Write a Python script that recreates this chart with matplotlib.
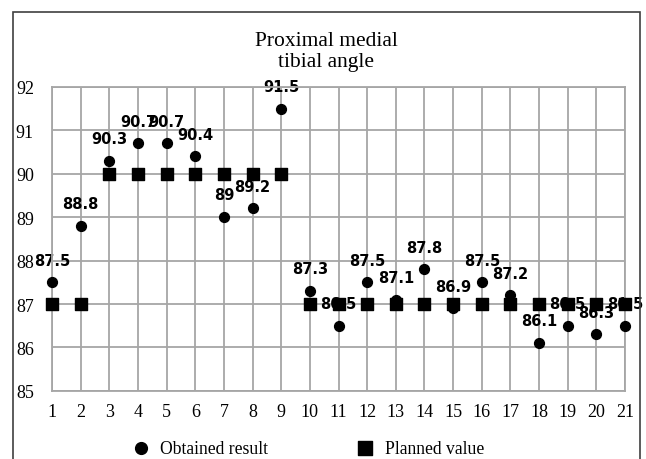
import matplotlib.pyplot as plt
from matplotlib.patches import Rectangle

# case numbers and angles (degrees)
cases = list(range(1, 22))
obtained = [87.5, 88.8, 90.3, 90.7, 90.7, 90.4, 89, 89.2, 91.5, 87.3,
            86.5, 87.5, 87.1, 87.8, 86.9, 87.5, 87.2, 86.1, 86.5, 86.3, 86.5]
planned = [87, 87, 90, 90, 90, 90, 90, 90, 90, 87,
           87, 87, 87, 87, 87, 87, 87, 87, 87, 87, 87]

serif = 'Liberation Serif'

fig = plt.figure(figsize=(6.46, 4.60), dpi=100)
ax = fig.add_axes([0.0805, 0.148, 0.887, 0.661])

ax.scatter(cases, planned, marker='s', s=75, color='black', zorder=3,
           clip_on=False, label='Planned value')
ax.scatter(cases, obtained, marker='o', s=50, color='black', zorder=4,
           clip_on=False, label='Obtained result')

# data labels above the obtained points
for x, y in zip(cases, obtained):
    ax.annotate(f'{y:g}', (x, y), xytext=(0, 16), textcoords='offset points',
                ha='center', va='center', fontsize=10.5, fontweight='bold',
                zorder=2)

ax.set_xlim(1, 21)
ax.set_ylim(85, 92)
ax.set_xticks(cases)
ax.set_yticks(range(85, 93))
ax.grid(True, color='#a6a6a6', linewidth=1.3)
ax.set_axisbelow(True)
for sp in ax.spines.values():
    sp.set_color('#a6a6a6')
    sp.set_linewidth(1.3)
ax.tick_params(length=0, labelsize=13)
ax.tick_params(axis='x', pad=9)
ax.tick_params(axis='y', pad=13)
for lab in ax.get_xticklabels() + ax.get_yticklabels():
    lab.set_fontfamily(serif)

fig.text(0.505, 0.887, 'Proximal medial\ntibial angle', ha='center',
         va='center', fontsize=15.5, family=serif, linespacing=1.2)

handles, labels = ax.get_legend_handles_labels()
fig.legend(handles[::-1], labels[::-1], loc='center', ncol=2,
           bbox_to_anchor=(0.47, 0.023), frameon=False,
           prop={'family': serif, 'size': 12.7}, columnspacing=4.5,
           handletextpad=0.1, markerscale=1.2)

# outer frame around the figure
fig.patches.append(Rectangle((0.02, -0.05), 0.971, 1.022,
                             transform=fig.transFigure, fill=False,
                             edgecolor='#404040', linewidth=1.2))

fig.savefig('out.png', dpi=100)
